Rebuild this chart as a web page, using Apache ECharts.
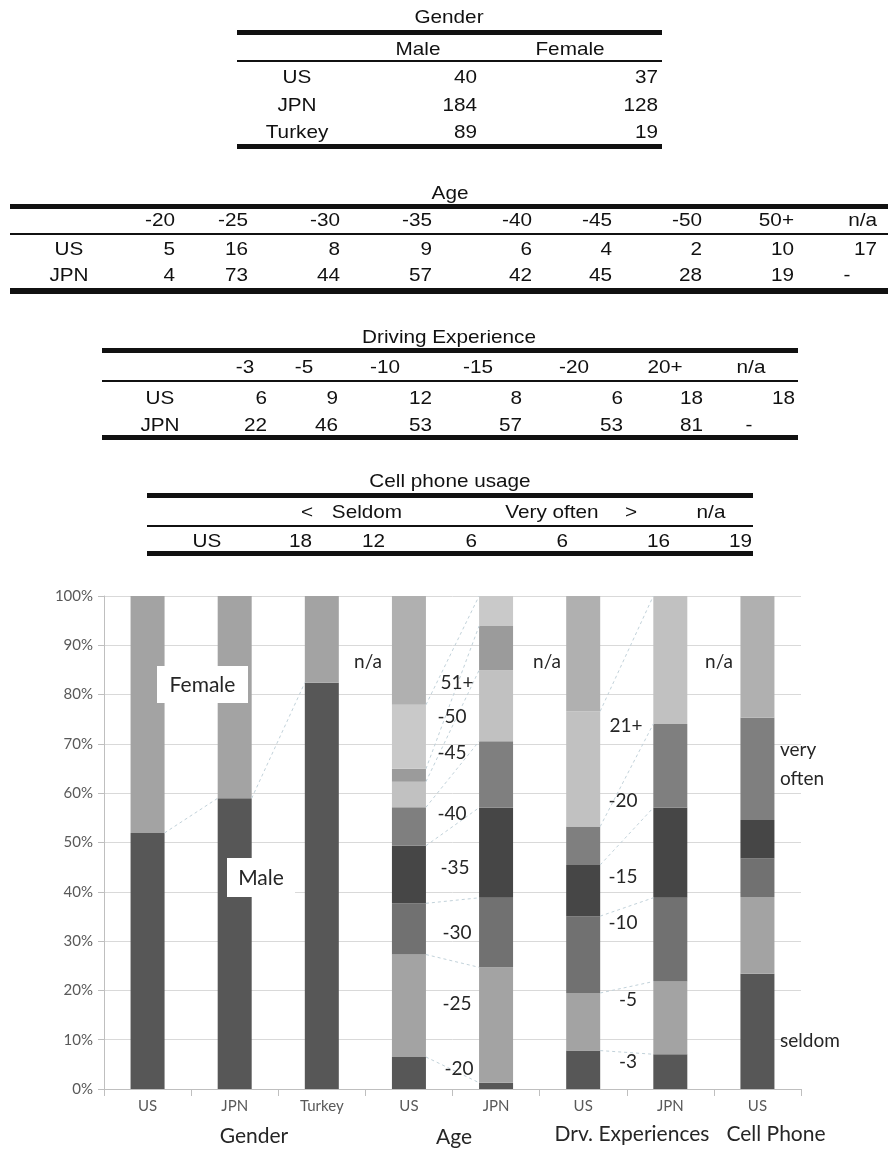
<!DOCTYPE html>
<html>
<head>
<meta charset="utf-8">
<script src="https://cdn.jsdelivr.net/npm/echarts@6/dist/echarts.min.js"></script>
<style>
  html, body { margin: 0; padding: 0; background: #fff; }
  #page { position: relative; width: 888px; height: 1149px; overflow: hidden; }
  #main { position: absolute; left: 0; top: 0; width: 888px; height: 1149px; }
  #tables { position: absolute; left: 0; top: 0; width: 888px; height: 1149px; pointer-events: none;
            font-family: "Liberation Sans", Arial, sans-serif; font-size: 18.5px; color: #111; }
  .t { position: absolute; white-space: nowrap; line-height: 1; }
  .r { position: absolute; background: #111; }
</style>
</head>
<body>
<div id="page">
  <div id="main"></div>
  <div id="tables"></div>
</div>
<script>
// values
const genderCols = ['Male', 'Female'];
const genderRows = ['US', 'JPN', 'Turkey'];
const genderUS = [40, 37];
const genderJPN = [184, 128];
const genderTurkey = [89, 19];

const ageCols = ['-20', '-25', '-30', '-35', '-40', '-45', '-50', '50+', 'n/a'];
const ageUS = [5, 16, 8, 9, 6, 4, 2, 10, 17];
const ageJPN = [4, 73, 44, 57, 42, 45, 28, 19, null];

const drvCols = ['-3', '-5', '-10', '-15', '-20', '20+', 'n/a'];
const drvUS = [6, 9, 12, 8, 6, 18, 18];
const drvJPN = [22, 46, 53, 57, 53, 81, null];

const cellHead = ['<', 'Seldom', 'Very often', '>', 'n/a'];
const cellUS = [18, 12, 6, 6, 16, 19];

const barNames = ['US', 'JPN', 'Turkey', 'US', 'JPN', 'US', 'JPN', 'US'];
const barCounts = [genderUS, genderJPN, genderTurkey, ageUS, ageJPN, drvUS, drvJPN, cellUS];
const barNaCol = [-1, -1, -1, 8, 8, 6, 6, 5];     // which column is "n/a"
const linkedBars = [[0, 1], [1, 2], [3, 4], [5, 6]];
const groupNames = ['Gender', 'Age', 'Drv. Experiences', 'Cell Phone'];

// ---------- tables (html) ----------
const box = document.getElementById('tables');
function txt(s, x, y, align) {
  const d = document.createElement('div');
  d.className = 't';
  d.textContent = s;
  d.style.left = x + 'px';
  d.style.top = y + 'px';
  if (align === 'r') {
    d.style.transformOrigin = 'right center';
    d.style.transform = 'translate(-100%,-50%) scaleX(1.12)';
  } else {
    d.style.transformOrigin = 'center center';
    d.style.transform = 'translate(-50%,-50%) scaleX(1.12)';
  }
  box.appendChild(d);
}
function rule(x1, x2, y, h) {
  const d = document.createElement('div');
  d.className = 'r';
  d.style.left = x1 + 'px';
  d.style.width = (x2 - x1) + 'px';
  d.style.top = y + 'px';
  d.style.height = h + 'px';
  box.appendChild(d);
}
function row(vals, rights, y, dashX) {
  vals.forEach((v, i) => {
    if (v == null) txt('-', dashX, y, 'c');
    else txt(String(v), rights[i], y, 'r');
  });
}

// Gender
txt('Gender', 449, 16.5, 'c');
rule(237, 662, 30, 5);
[418, 570].forEach((x, i) => txt(genderCols[i], x, 48.5, 'c'));
rule(237, 662, 60, 2);
[genderUS, genderJPN, genderTurkey].forEach((vals, r) => {
  const y = [77, 104.5, 132][r];
  txt(genderRows[r], 297, y, 'c');
  row(vals, [477, 658], y);
});
rule(237, 662, 144, 5);

// Age
const ageRight = [175, 248, 340, 432, 532, 612, 702, 794, 877];
txt('Age', 450, 193, 'c');
rule(10, 888, 204, 5);
ageCols.forEach((c, i) => txt(c, ageRight[i], 220, 'r'));
rule(10, 888, 233, 2);
txt('US', 69, 248.5, 'c'); row(ageUS, ageRight, 248.5, 847);
txt('JPN', 69, 275, 'c'); row(ageJPN, ageRight, 275, 847);
rule(10, 888, 288, 6);

// Driving experience
const drvHeadX = [245, 304, 385, 478, 574, 665, 751];
const drvRight = [267, 338, 432, 522, 623, 703, 795];
txt('Driving Experience', 449, 336.5, 'c');
rule(102, 798, 348, 5);
drvCols.forEach((c, i) => txt(c, drvHeadX[i], 367, 'c'));
rule(102, 798, 380, 2);
txt('US', 160, 398, 'c'); row(drvUS, drvRight, 398, 749);
txt('JPN', 160, 424.5, 'c'); row(drvJPN, drvRight, 424.5, 749);
rule(102, 798, 435, 5);

// Cell phone
const cellHeadX = [307, 367, 552, 631, 711];
const cellRight = [312, 385, 477, 568, 670, 752];
txt('Cell phone usage', 450, 480.5, 'c');
rule(147, 753, 493, 5);
cellHead.forEach((c, i) => txt(c, cellHeadX[i], 512, 'c'));
rule(147, 753, 525, 2);
txt('US', 207, 540.5, 'c'); row(cellUS, cellRight, 540.5);
rule(147, 753, 551, 5);

// ---------- stacked 100% chart ----------
const layerColors = ['#575757', '#a3a3a3', '#717171', '#464646', '#7f7f7f', '#c1c1c1', '#9b9b9b', '#c9c9c9', '#b0b0b0'];
const naColor = '#b0b0b0';

const pcts = barCounts.map(vals => {
  const tot = vals.reduce((a, v) => a + (v || 0), 0);
  return vals.map(v => v == null ? null : v / tot * 100);
});
const nLayers = Math.max(...barCounts.map(v => v.length));

const series = [];
for (let k = 0; k < nLayers; k++) {
  series.push({
    type: 'bar',
    stack: 'all',
    barWidth: 34,
    silent: true,
    itemStyle: { color: layerColors[k] },
    data: pcts.map((p, i) => {
      if (k >= p.length || p[k] == null) return '-';
      return k === barNaCol[i] ? { value: p[k], itemStyle: { color: naColor } } : p[k];
    })
  });
}

// series lines between neighbouring bars
const cum = pcts.map(p => {
  let s = 0;
  return p.map(v => (s += (v || 0)));
});
const links = [];
linkedBars.forEach(([a, b]) => {
  const n = Math.min(cum[a].length, cum[b].length);
  for (let k = 0; k < n; k++) {
    if (k === barNaCol[a] || k === barNaCol[b]) continue;
    if (pcts[b][k] == null) continue;
    if (cum[a][k] > 99.9 && cum[b][k] > 99.9) continue;
    links.push([a, cum[a][k], b, cum[b][k]]);
  }
});
series.push({
  type: 'custom',
  silent: true,
  z: 3,
  encode: { x: 0, y: 1 },
  data: links,
  renderItem: (params, api) => {
    const p1 = api.coord([api.value(0), api.value(1)]);
    const p2 = api.coord([api.value(2), api.value(3)]);
    return {
      type: 'line',
      shape: { x1: p1[0] + 17, y1: p1[1], x2: p2[0] - 17, y2: p2[1] },
      style: { stroke: '#c2d2da', lineWidth: 1, lineDash: [3, 3] }
    };
  }
});

const font = 'Lato';
const plotLabels = [
  ['n/a', 368, 662], ['n/a', 547, 662], ['n/a', 719, 662],
  ['51+', 457, 683], ['-50', 452, 717], ['-45', 452, 753], ['-40', 452, 814],
  ['-35', 455, 868], ['-30', 457, 933], ['-25', 457, 1004], ['-20', 459, 1069],
  ['21+', 626, 726], ['-20', 623, 801], ['-15', 623, 877], ['-10', 623, 923],
  ['-5', 628, 1000], ['-3', 628, 1062]
];
const graphic = plotLabels.map(([t, x, y]) => ({
  type: 'text', x: x, y: y, z: 100,
  style: { text: t, fill: '#262626', font: '19px ' + font, textAlign: 'center', textVerticalAlign: 'middle' }
}));
[['very', 780, 750], ['often', 780, 779], ['seldom', 780, 1041]].forEach(([t, x, y]) => {
  graphic.push({ type: 'text', x: x, y: y, z: 100,
    style: { text: t, fill: '#262626', font: '19px ' + font, textAlign: 'left', textVerticalAlign: 'middle' } });
});
[['Female', 157, 666, 91, 37], ['Male', 227, 858, 68, 39]].forEach(([t, x, y, w, h]) => {
  graphic.push({ type: 'rect', z: 100, shape: { x: x, y: y, width: w, height: h }, style: { fill: '#fff' } });
  graphic.push({ type: 'text', z: 101, x: x + w / 2, y: y + h / 2 + 0.5,
    style: { text: t, fill: '#262626', font: '21px ' + font, textAlign: 'center', textVerticalAlign: 'middle' } });
});
[[groupNames[0], 254, 1136], [groupNames[1], 454, 1137], [groupNames[2], 632, 1134], [groupNames[3], 776, 1134]].forEach(([t, x, y]) => {
  graphic.push({ type: 'text', x: x, y: y, z: 100,
    style: { text: t, fill: '#262626', font: '21px ' + font, textAlign: 'center', textVerticalAlign: 'middle' } });
});

const chart = echarts.init(document.getElementById('main'), null, { renderer: 'canvas' });
chart.setOption({
  animation: false,
  backgroundColor: '#fff',
  grid: { left: 104, right: 87, top: 596, bottom: 60, containLabel: false, outerBoundsMode: 'none' },
  xAxis: {
    type: 'category',
    data: barNames.map((n, i) => String(i)),
    axisLine: { lineStyle: { color: '#bfbfbf', width: 1 } },
    axisTick: { show: true, interval: 0, length: 7, lineStyle: { color: '#bfbfbf' } },
    axisLabel: { interval: 0, margin: 10, color: '#595959', fontFamily: font, fontSize: 15,
                 formatter: v => barNames[+v] },
    splitLine: { show: false }
  },
  yAxis: {
    type: 'value',
    min: 0, max: 100, interval: 10,
    axisLine: { show: true, lineStyle: { color: '#bfbfbf' } },
    axisTick: { show: true, length: 6, lineStyle: { color: '#bfbfbf' } },
    axisLabel: { margin: 11, color: '#595959', fontFamily: font, fontSize: 15, formatter: '{value}%' },
    splitLine: { lineStyle: { color: '#d9d9d9', width: 1 } }
  },
  series: series,
  graphic: graphic
});
</script>
</body>
</html>
